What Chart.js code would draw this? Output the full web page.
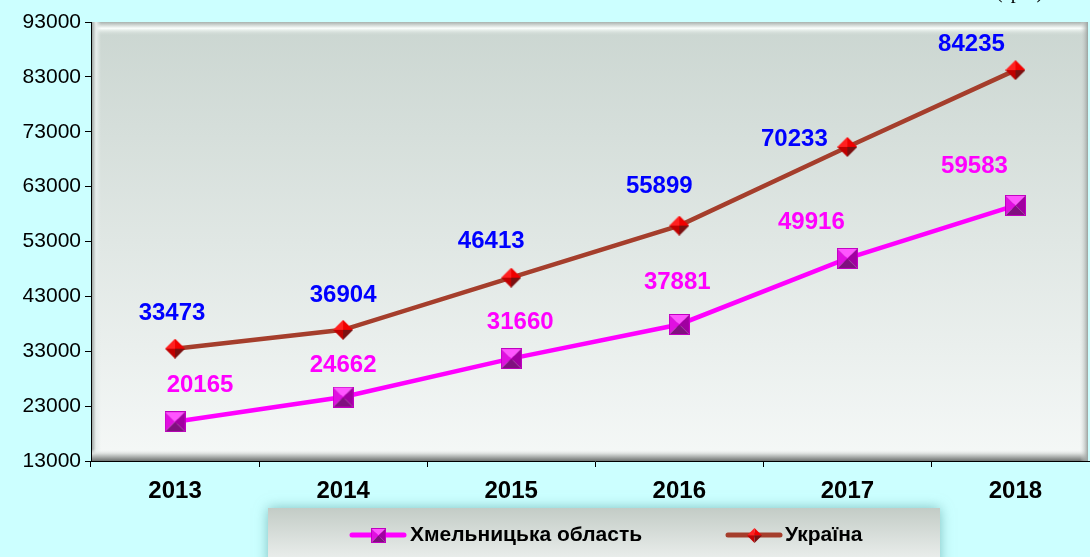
<!DOCTYPE html>
<html>
<head>
<meta charset="utf-8">
<script src="https://cdn.jsdelivr.net/npm/chart.js@4"></script>
<style>
  html, body { margin: 0; padding: 0; background: #CCFFFF; overflow: hidden; }
  #wrap { position: relative; width: 1090px; height: 557px; overflow: hidden; }
  #c { position: absolute; left: 0; top: 0; }
  #unit { position: absolute; top: -20px; left: 996px; font: 20px "Liberation Serif", "Times New Roman", serif; color: #000; }
</style>
</head>
<body>
<div id="wrap">
  <canvas id="c" width="1114" height="557" style="width:1114px;height:557px"></canvas>
  <div id="unit">(грн.)</div>
</div>
<script>
var years = ['2013', '2014', '2015', '2016', '2017', '2018'];
var khmelnytska = [20165, 24662, 31660, 37881, 49916, 59583];
var ukraina = [33473, 36904, 46413, 55899, 70233, 84235];
var y_ticks = {min: 13000, max: 93000, step: 10000};
var series_names = ['Хмельницька область', 'Україна'];

// where each value label sits relative to its point
var label_offsets = [
  [[25, -36], [0, -32], [9, -36], [-2, -42], [-36, -36], [-41, -39]],
  [[-3, -35], [0, -34], [-20, -36], [-20, -39], [-53, -8], [-44, -26]]
];

function squareMarker(s) {
  var c = document.createElement('canvas');
  c.width = s; c.height = s;
  var g = c.getContext('2d');
  var m = s / 2;
  var tri = function (pts, col) {
    g.beginPath(); g.moveTo(pts[0], pts[1]); g.lineTo(pts[2], pts[3]); g.lineTo(m, m); g.closePath();
    g.fillStyle = col; g.fill();
  };
  tri([0, 0, s, 0], '#FF55FF');
  tri([0, 0, 0, s], '#E010E0');
  tri([s, 0, s, s], '#A000A0');
  tri([0, s, s, s], '#80107F');
  g.strokeStyle = '#C000C0'; g.lineWidth = 1; g.strokeRect(0.5, 0.5, s - 1, s - 1);
  return c;
}

function diamondMarker(s) {
  var c = document.createElement('canvas');
  c.width = s; c.height = s;
  var g = c.getContext('2d');
  var m = s / 2;
  var tri = function (pts, col) {
    g.beginPath(); g.moveTo(pts[0], pts[1]); g.lineTo(pts[2], pts[3]); g.lineTo(m, m); g.closePath();
    g.fillStyle = col; g.fill();
  };
  tri([0, m, m, 0], '#FF2020');
  tri([m, 0, s, m], '#F00000');
  tri([0, m, m, s], '#C00000');
  tri([m, s, s, m], '#7A1010');
  return c;
}

var sqImg = squareMarker(21);
var diaImg = diamondMarker(20);
var sqSmall = squareMarker(15);
var diaSmall = diamondMarker(15);

var plotBg = {
  id: 'plotBg',
  beforeDraw: function (chart) {
    var ctx = chart.ctx, a = chart.chartArea;
    var l = a.left, t = a.top, r = 1088, b = a.bottom;
    ctx.save();
    var gr = ctx.createLinearGradient(0, t, 0, b);
    gr.addColorStop(0, '#CBD6D1');
    gr.addColorStop(1, '#F5F8F7');
    ctx.fillStyle = gr;
    ctx.fillRect(l, t, r - l, b - t);
    // top bevel
    var gt = ctx.createLinearGradient(0, t, 0, t + 14);
    gt.addColorStop(0, '#A9B2AE');
    gt.addColorStop(0.45, '#FBFFFD');
    gt.addColorStop(1, 'rgba(203,214,209,0)');
    ctx.fillStyle = gt;
    ctx.fillRect(l, t, r - l, 14);
    // left bevel
    var gl = ctx.createLinearGradient(l, 0, l + 10, 0);
    gl.addColorStop(0, '#8E9693');
    gl.addColorStop(0.5, '#E8EEEC');
    gl.addColorStop(1, 'rgba(230,236,234,0)');
    ctx.fillStyle = gl;
    ctx.fillRect(l, t, 10, b - t);
    // bottom bevel
    var gb = ctx.createLinearGradient(0, b - 12, 0, b);
    gb.addColorStop(0, 'rgba(245,248,247,0)');
    gb.addColorStop(0.4, '#D8DCDA');
    gb.addColorStop(1, '#6E7270');
    ctx.fillStyle = gb;
    ctx.fillRect(l, b - 12, r - l, 12);
    // right bevel
    var gr2 = ctx.createLinearGradient(r - 8, 0, r, 0);
    gr2.addColorStop(0, 'rgba(220,225,223,0)');
    gr2.addColorStop(1, '#9AA19E');
    ctx.fillStyle = gr2;
    ctx.fillRect(r - 8, t, 8, b - t);
    ctx.restore();
  }
};

var valueLabels = {
  id: 'valueLabels',
  afterDatasetsDraw: function (chart) {
    var ctx = chart.ctx;
    var colors = ['#FF00FF', '#0000FF'];
    ctx.save();
    ctx.font = 'bold 24px Arial, "Liberation Sans", sans-serif';
    ctx.textAlign = 'center';
    ctx.textBaseline = 'middle';
    chart.data.datasets.forEach(function (ds, di) {
      var meta = chart.getDatasetMeta(di);
      ctx.fillStyle = colors[di];
      meta.data.forEach(function (pt, i) {
        var o = label_offsets[di][i];
        ctx.fillText(String(ds.data[i]), pt.x + o[0], pt.y + o[1]);
      });
    });
    ctx.restore();
  }
};

var legendBox = {
  id: 'legendBox',
  afterDraw: function (chart) {
    var ctx = chart.ctx;
    var x = 268, y = 508, w = 672, h = 60;
    ctx.save();
    ctx.shadowColor = 'rgba(60,140,140,0.55)';
    ctx.shadowBlur = 12;
    var g = ctx.createLinearGradient(0, y, 0, y + 50);
    g.addColorStop(0, '#C3CCC6');
    g.addColorStop(1, '#E9EDEB');
    ctx.fillStyle = g;
    ctx.fillRect(x, y, w, h);
    ctx.restore();

    ctx.save();
    ctx.lineCap = 'round';
    var ly = 535;
    ctx.lineWidth = 5;
    ctx.strokeStyle = '#FF00FF';
    ctx.beginPath(); ctx.moveTo(352, ly); ctx.lineTo(404, ly); ctx.stroke();
    ctx.drawImage(sqSmall, 378 - 7, ly - 7);
    ctx.strokeStyle = '#A53E2C';
    ctx.beginPath(); ctx.moveTo(728, ly); ctx.lineTo(780, ly); ctx.stroke();
    ctx.drawImage(diaSmall, 754 - 7, ly - 7);
    ctx.fillStyle = '#000';
    ctx.font = 'bold 21px Arial, "Liberation Sans", sans-serif';
    ctx.textBaseline = 'middle';
    ctx.textAlign = 'left';
    ctx.fillText(series_names[0], 410, ly);
    ctx.fillText(series_names[1], 785, ly);
    ctx.restore();
  }
};

new Chart(document.getElementById('c'), {
  type: 'line',
  data: {
    labels: years,
    datasets: [{
      label: series_names[0],
      data: khmelnytska,
      borderColor: '#FF00FF',
      borderWidth: 4.5,
      pointStyle: sqImg,
      pointRadius: 10,
      tension: 0
    }, {
      label: series_names[1],
      data: ukraina,
      borderColor: '#A53E2C',
      borderWidth: 4.5,
      pointStyle: diaImg,
      pointRadius: 10,
      tension: 0
    }]
  },
  options: {
    responsive: false,
    animation: false,
    layout: { padding: { top: 22, left: 0, right: 0, bottom: 0 } },
    plugins: {
      legend: { display: false },
      tooltip: { enabled: false }
    },
    scales: {
      x: {
        offset: true,
        afterFit: function (s) { s.height = 96; },
        grid: { offset: true, drawOnChartArea: false, tickLength: 6, color: '#000', lineWidth: 1 },
        border: { color: '#000', width: 1 },
        ticks: {
          color: '#000',
          padding: 10,
          font: { family: 'Arial, "Liberation Sans", sans-serif', size: 24, weight: 'bold' }
        }
      },
      y: {
        min: y_ticks.min,
        max: y_ticks.max,
        afterFit: function (s) { s.width = 91; },
        afterBuildTicks: function (s) {
          var t = [];
          for (var v = y_ticks.min; v <= y_ticks.max; v += y_ticks.step) t.push({value: v});
          s.ticks = t;
        },
        grid: { drawOnChartArea: false, tickLength: 6, color: '#000', lineWidth: 1 },
        border: { color: '#000', width: 1 },
        ticks: {
          color: '#000',
          padding: 4,
          callback: function (v) { return String(v); },
          font: { family: 'Arial, "Liberation Sans", sans-serif', size: 21 }
        }
      }
    }
  },
  plugins: [plotBg, valueLabels, legendBox]
});
</script>
</body>
</html>
